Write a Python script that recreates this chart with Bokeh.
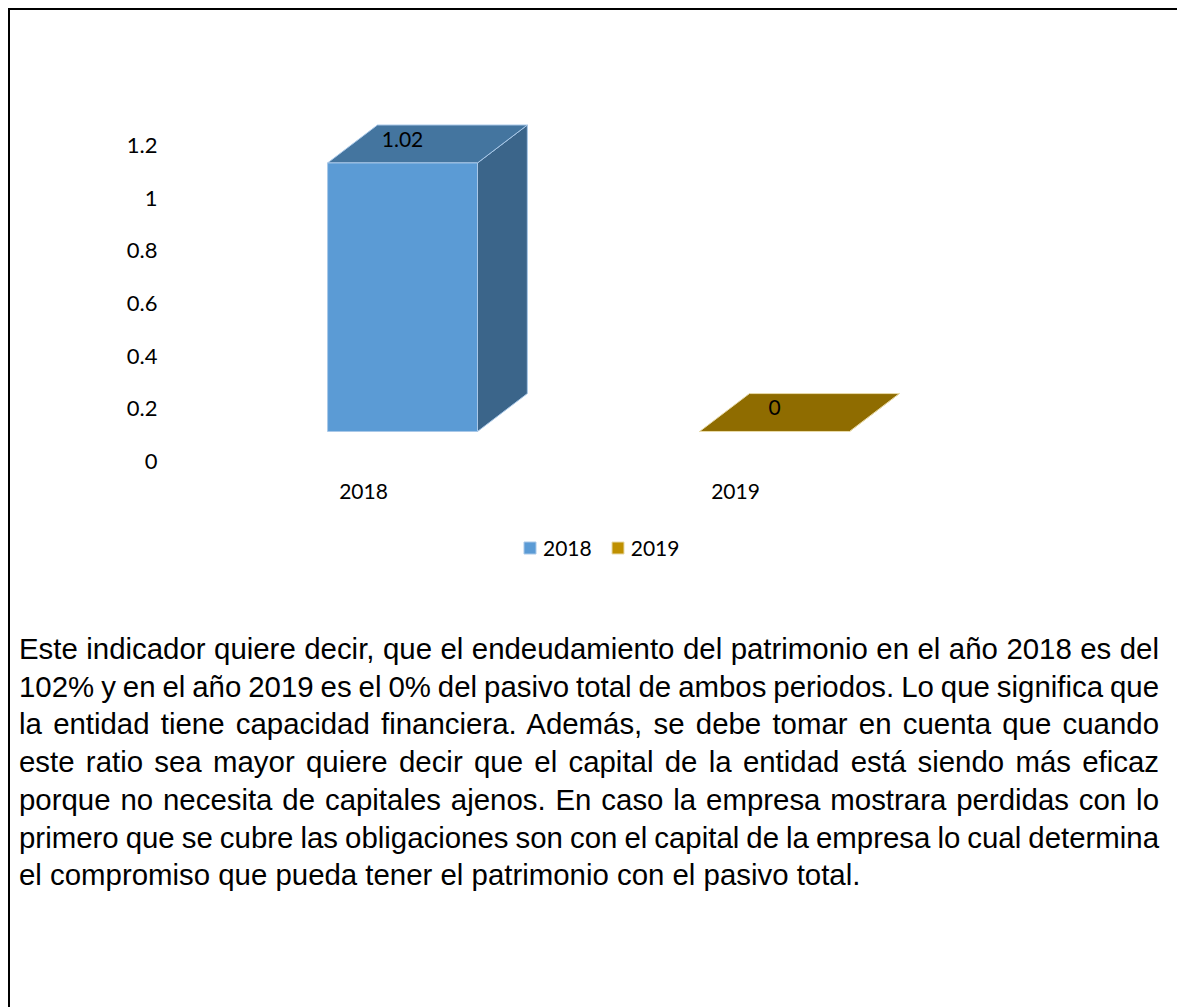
from bokeh.plotting import figure
from bokeh.models import (ColumnDataSource, FixedTicker, Legend, LegendItem, Div,
                          Range1d, Column)
from bokeh.embed import file_html
from bokeh.resources import INLINE
from bokeh.core.properties import value

# ---------------- data ----------------
categories = ["2018", "2019"]
values = [1.02, 0.0]
value_labels = ["1.02", "0"]
front_colors = ["#5B9BD5", "#BF9000"]
top_colors = ["#44759F", "#8F6C00"]
side_colors = ["#3B658A", "#7C5E00"]
edge_colors = ["#A9C8E8", "#E8DAA8"]
y_ticks = [0, 0.2, 0.4, 0.6, 0.8, 1.0, 1.2]
y_tick_labels = ["0", "0.2", "0.4", "0.6", "0.8", "1", "1.2"]

paragraph_lines = [
    "Este indicador quiere decir, que el endeudamiento del patrimonio en el año 2018 es del",
    "102% y en el año 2019 es el 0% del pasivo total de ambos periodos. Lo que significa que",
    "la entidad tiene capacidad financiera. Además, se debe tomar en cuenta que cuando",
    "este ratio sea mayor quiere decir que el capital de la entidad está siendo más eficaz",
    "porque no necesita de capitales ajenos. En caso la empresa mostrara perdidas con lo",
    "primero que se cubre las obligaciones son con el capital de la empresa lo cual determina",
    "el compromiso que pueda tener el patrimonio con el pasivo total.",
]

# ---------------- 3D geometry (data units) ----------------
W = 0.403        # bar front width
FDX = 0.105      # front face shift from floor front (x)
FDY = 0.114      # front face shift from floor front (y)
DDX = 0.134      # bar depth (x)
DDY = 0.144      # bar depth (y)
FLOOR_Y = -0.0532  # where category labels hang

xs = list(range(len(categories)))
front = dict(left=[], right=[], bottom=[], top=[], color=[], edge=[])
tops = dict(xs=[], ys=[], color=[], edge=[])
sides = dict(xs=[], ys=[], color=[], edge=[])
labels = dict(x=[], y=[], text=[])
for i, v in enumerate(values):
    cx = xs[i] + FDX
    x0, x1 = cx - W / 2, cx + W / 2
    yb, yt = FDY, v + FDY
    front["left"].append(x0); front["right"].append(x1)
    front["bottom"].append(yb); front["top"].append(yt)
    front["color"].append(front_colors[i]); front["edge"].append(edge_colors[i])
    tops["xs"].append([x0, x1, x1 + DDX, x0 + DDX])
    tops["ys"].append([yt, yt, yt + DDY, yt + DDY])
    tops["color"].append(top_colors[i]); tops["edge"].append(edge_colors[i])
    sides["xs"].append([x1, x1 + DDX, x1 + DDX, x1])
    sides["ys"].append([yb, yb + DDY, yt + DDY, yt])
    sides["color"].append(side_colors[i]); sides["edge"].append(edge_colors[i])
    labels["x"].append(cx)
    labels["y"].append(yt + DDY * 0.62)
    labels["text"].append(value_labels[i])

# ---------------- figure ----------------
FONT = "Lato"
p = figure(width=1150, height=590, output_backend="svg", toolbar_location=None,
           x_range=Range1d(-0.5376, 2.1425), y_range=Range1d(-0.5279, 1.7129),
           min_border_left=153, min_border_right=0, min_border_top=0,
           min_border_bottom=0)
p.background_fill_color = "white"
p.border_fill_color = "white"
p.outline_line_color = None
p.grid.visible = False

p.xaxis.fixed_location = FLOOR_Y
p.xaxis.ticker = FixedTicker(ticks=xs)
p.xaxis.major_label_overrides = {x: c for x, c in zip(xs, categories)}
p.yaxis.ticker = FixedTicker(ticks=y_ticks)
p.yaxis.major_label_overrides = {t: l for t, l in zip(y_ticks, y_tick_labels)}
for ax in (p.xaxis[0], p.yaxis[0]):
    ax.axis_line_color = None
    ax.major_tick_line_color = None
    ax.minor_tick_line_color = None
    ax.major_tick_out = 0
    ax.major_tick_in = 0
    ax.minor_tick_out = 0
    ax.major_label_text_font = FONT
    ax.major_label_text_font_size = "21px"
    ax.major_label_text_color = "#000000"
p.yaxis.major_label_text_font_size = "22px"
p.xaxis.major_label_standoff = 8
p.yaxis.major_label_standoff = 6

p.patches("xs", "ys", source=ColumnDataSource(sides), fill_color="color",
          line_color="edge", line_width=1)
p.patches("xs", "ys", source=ColumnDataSource(tops), fill_color="color",
          line_color="edge", line_width=1)
fr = p.quad(left="left", right="right", bottom="bottom", top="top",
            source=ColumnDataSource(front), fill_color="color",
            line_color="edge", line_width=1)
p.text("x", "y", text="text", source=ColumnDataSource(labels),
       text_font=value(FONT), text_font_size="21px", text_color="#000000",
       text_align="center", text_baseline="middle")

items = [LegendItem(label=c, renderers=[fr], index=i) for i, c in enumerate(categories)]
legend = Legend(items=items, orientation="horizontal", location=(359, 40),
                glyph_width=15, glyph_height=15, label_standoff=6, spacing=18,
                padding=0, margin=0, border_line_color=None,
                background_fill_alpha=0,
                label_text_font=FONT, label_text_font_size="21px",
                label_text_color="#000000")
p.add_layout(legend)

# ---------------- paragraph ----------------
rows = []
for k, line in enumerate(paragraph_lines):
    if k < len(paragraph_lines) - 1:
        st = "text-align:justify;text-align-last:justify;word-spacing:-3px;"
    else:
        st = "text-align:left;"
    rows.append(f'<div style="{st}">{line}</div>')
html = ('<div style="font-family:\'Liberation Sans\',Arial,sans-serif;font-size:29.4px;'
        'line-height:37.7px;color:#000;width:1140px;">' + "".join(rows) + '</div>')
div = Div(text=html, width=1163, height=400,
          styles={"padding-left": "4px", "padding-top": "25px", "box-sizing": "border-box"})

layout = Column(children=[p, div], spacing=0, margin=(8, 0, 0, 8),
                styles={"border-top": "2px solid #000", "border-left": "2px solid #000"})

open("out.html", "w").write(file_html(layout, INLINE))
